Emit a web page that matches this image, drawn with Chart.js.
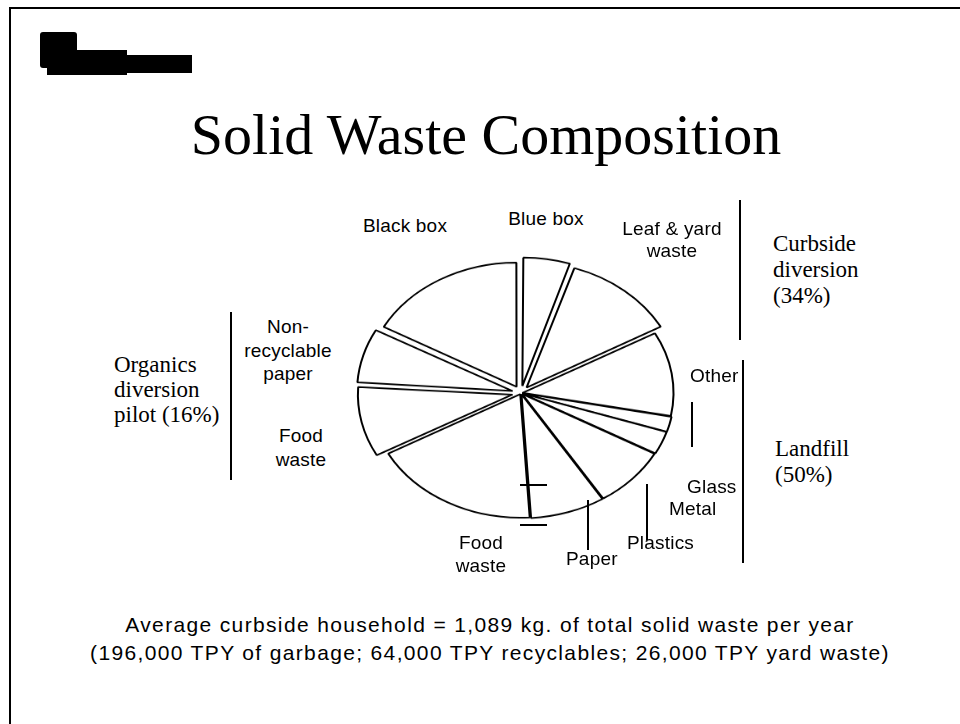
<!DOCTYPE html>
<html>
<head>
<meta charset="utf-8">
<script src="https://cdn.jsdelivr.net/npm/chart.js@4.4.1/dist/chart.umd.min.js"></script>
<style>
  html, body { margin: 0; padding: 0; background: #fff; }
  body { width: 960px; height: 724px; position: relative; overflow: hidden; font-family: "Liberation Sans", Arial, sans-serif; color: #000; }
  .frame-top { position: absolute; left: 9px; top: 7px; width: 951px; height: 2px; background: #000; }
  .frame-left { position: absolute; left: 9px; top: 7px; width: 2px; height: 717px; background: #000; }
  .blob { position: absolute; background: #000; }
  h1 { position: absolute; left: 6px; width: 960px; top: 106px; margin: 0; text-align: center; font: 58px/58px "Liberation Serif", "Times New Roman", serif; font-weight: normal; }
  .lbl { position: absolute; font-size: 19px; line-height: 23px; letter-spacing: 0.2px; white-space: nowrap; }
  .ctr { text-align: center; transform: translateX(-50%); }
  .grp { position: absolute; font: 23px/26px "Liberation Serif", "Times New Roman", serif; white-space: nowrap; }
  .vline { position: absolute; width: 2px; background: #000; }
  .hline { position: absolute; height: 2px; background: #000; }
  #pieWrap { position: absolute; left: 335px; top: 207px; width: 372px; height: 372px; transform: scaleY(0.82); transform-origin: 50% 50%; }
  .foot { position: absolute; left: 10px; width: 960px; text-align: center; font-size: 21px; line-height: 28px; letter-spacing: 1.35px; white-space: nowrap; }
</style>
</head>
<body>
<div class="frame-top"></div>
<div class="frame-left"></div>
<div class="blob" style="left:40px;top:32px;width:37px;height:36px;border-radius:3px"></div>
<div class="blob" style="left:47px;top:60px;width:30px;height:15px"></div>
<div class="blob" style="left:77px;top:50px;width:50px;height:25px"></div>
<div class="blob" style="left:127px;top:55px;width:65px;height:18px"></div>

<h1>Solid Waste Composition</h1>

<div id="pieWrap"><canvas id="pie"></canvas></div>

<!-- slice labels -->
<div class="lbl ctr" style="left:405px;top:214px">Black box</div>
<div class="lbl ctr" style="left:546px;top:207px">Blue box</div>
<div class="lbl ctr" style="left:672px;top:218px;line-height:22px">Leaf &amp; yard<br>waste</div>
<div class="lbl ctr" style="left:288px;top:315px;line-height:23.5px">Non-<br>recyclable<br>paper</div>
<div class="lbl ctr" style="left:301px;top:424px;line-height:24px">Food<br>waste</div>
<div class="lbl" style="left:690px;top:364px">Other</div>
<div class="lbl" style="left:687px;top:475px">Glass</div>
<div class="lbl" style="left:669px;top:497px">Metal</div>
<div class="lbl" style="left:627px;top:531px">Plastics</div>
<div class="lbl" style="left:566px;top:547px">Paper</div>
<div class="lbl ctr" style="left:481px;top:531px">Food<br>waste</div>

<!-- leaders -->
<div class="vline" style="left:691px;top:402px;height:45px"></div>
<div class="vline" style="left:646px;top:484px;height:56px"></div>
<div class="vline" style="left:587px;top:500px;height:50px"></div>
<div class="hline" style="left:520px;top:484px;width:27px"></div>
<div class="hline" style="left:520px;top:524px;width:27px"></div>

<!-- group brackets -->
<div class="vline" style="left:739px;top:200px;height:140px"></div>
<div class="vline" style="left:742px;top:360px;height:203px"></div>
<div class="vline" style="left:230px;top:312px;height:168px"></div>

<div class="grp" style="left:773px;top:231px">Curbside<br>diversion<br>(34%)</div>
<div class="grp" style="left:775px;top:436px">Landfill<br>(50%)</div>
<div class="grp" style="left:114px;top:352px;line-height:25px">Organics<br>diversion<br>pilot (16%)</div>

<div class="foot" style="top:611px">Average curbside household = 1,089 kg. of total solid waste per year</div>
<div class="foot" style="top:639px">(196,000 TPY of garbage; 64,000 TPY recyclables; 26,000 TPY yard waste)</div>

<script>
// slices clockwise from 12 o'clock, share of total waste (%)
const categories = ['Blue box', 'Leaf & yard waste', 'Other', 'Glass', 'Metal', 'Plastics',
                    'Paper', 'Food waste', 'Food waste', 'Non-recyclable paper', 'Black box'];
const shares = [5, 12, 11, 2, 3, 8, 8, 18, 9, 7, 17];
const groups = ['curbside', 'curbside', 'landfill', 'landfill', 'landfill', 'landfill',
                'landfill', 'landfill', 'organics', 'organics', 'curbside'];

// how far each group is pulled out of the pie
const groupOffset = { curbside: 35, landfill: 6, organics: 35 };

new Chart(document.getElementById('pie').getContext('2d'), {
    type: 'pie',
    data: {
        labels: categories,
        datasets: [{
            data: shares,
            backgroundColor: '#ffffff',
            borderColor: '#000000',
            borderWidth: 2,
            offset: groups.map(g => groupOffset[g])
        }]
    },
    options: {
        responsive: true,
        maintainAspectRatio: false,
        animation: false,
        layout: { padding: 17 },
        plugins: {
            legend: { display: false },
            tooltip: { enabled: false }
        }
    }
});
</script>
</body>
</html>
